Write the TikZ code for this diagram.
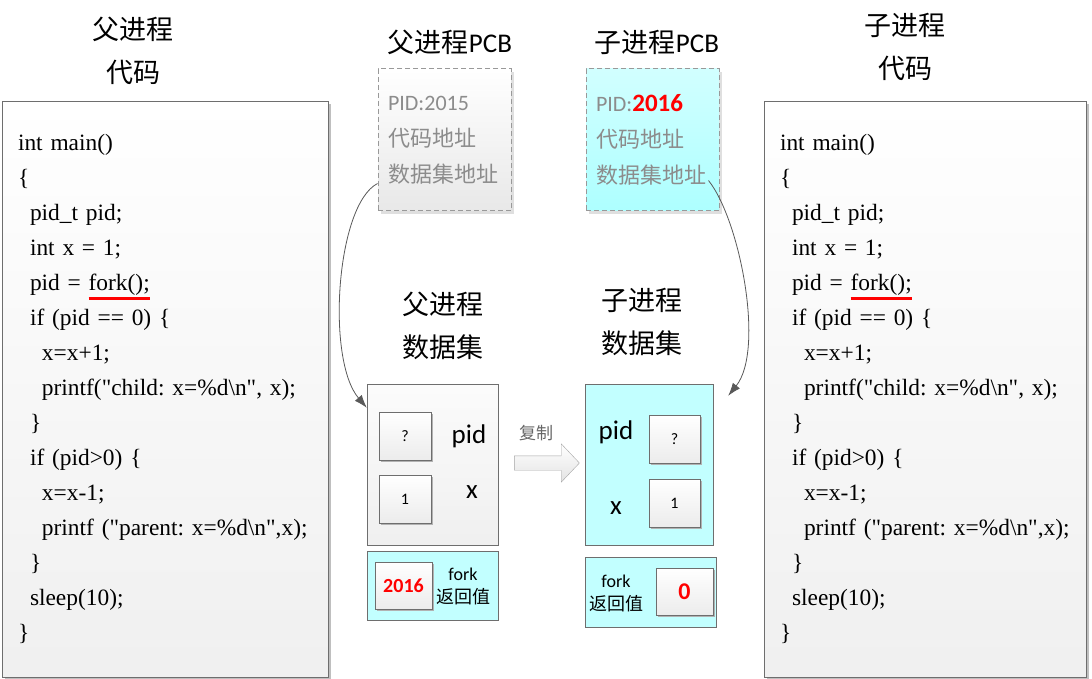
\documentclass[tikz,border=0pt]{standalone}
\usepackage{fontspec}
\setmainfont{Liberation Serif}
\newfontfamily\codefont{Liberation Serif}
\newfontfamily\cjk{Noto Sans CJK SC}
\newfontfamily\calib{Carlito}
\usepackage{xcolor}
\usepackage{tikz}
\usetikzlibrary{arrows.meta,shapes.arrows,shadows}

\definecolor{boxline}{HTML}{6E6E6E}
\definecolor{pcbtext}{HTML}{8C8C8C}
\definecolor{cyanfill}{HTML}{C2FFFF}

% red mark under fork();
\newcommand{\forkmark}[1]{\setbox0=\hbox{#1}\rlap{\color{red}\rule[-9pt]{\wd0}{2.5pt}}\box0}

\begin{document}
\begin{tikzpicture}[x=1pt,y=-1pt,
      every node/.style={inner sep=0pt},
      title/.style={font=\cjk\fontsize{27}{43}\selectfont, align=center},
      codebox/.style={
        draw=boxline, top color=white, bottom color=gray!12,
        align=left, minimum height=576pt,
        font=\codefont\frenchspacing\fontsize{23.4}{35}\selectfont,
        drop shadow={shadow xshift=3pt, shadow yshift=-3pt, fill=gray!50, opacity=1}
      },
      pcb/.style={
        draw=gray!80, dash pattern=on 5pt off 3pt, line width=1pt,
        align=left, inner xsep=10pt, text width=113pt, minimum height=142pt,
        text=pcbtext, font=\fontsize{22}{36}\selectfont,
        drop shadow={shadow xshift=3pt, shadow yshift=-3pt, fill=gray!25, opacity=1}
      },
      databox/.style={draw=boxline, minimum width=131pt, minimum height=161pt},
      retbox/.style={draw=boxline, minimum width=131pt, minimum height=69pt, fill=cyanfill},
      cell/.style={
        draw=boxline, top color=white, bottom color=gray!15,
        minimum width=52pt, minimum height=48pt,
        font=\calib\fontsize{16}{16}\selectfont,
        drop shadow={shadow xshift=1.5pt, shadow yshift=-1.5pt, fill=gray!60, opacity=1}
      },
      varname/.style={font=\calib\fontsize{27}{27}\selectfont},
      retlabel/.style={align=center, font=\fontsize{18}{23}\selectfont},
      link/.style={draw=gray!70!black, line width=0.8pt, -{Latex[length=13pt,width=9pt]}}
    ]
    \useasboundingbox (0,0) rectangle (1092,679);
    \fill[white] (0,0) rectangle (1092,679);

    % titles
    \node[title] (ptitle) at (133,51) {父进程\\代码};
    \node[title] (ctitle) at (905,47) {子进程\\代码};
    \node[title] (ppcbtitle) at (450,42) {父进程{\calib PCB}};
    \node[title] (cpcbtitle) at (657,42) {子进程{\calib PCB}};
    \node[title] (pdatatitle) at (443,326) {父进程\\数据集};
    \node[title] (cdatatitle) at (642,322) {子进程\\数据集};

    % code
    \node[codebox, inner xsep=16pt, text width=294pt] (pcode) at (165,389) {%
      int main()\\
      \{\\
      \hspace*{12pt}pid\_t pid;\\
      \hspace*{12pt}int x = 1;\\
      \hspace*{12pt}pid = \forkmark{fork();}\\
      \hspace*{12pt}if (pid == 0) \{\\
      \hspace*{24pt}x=x+1;\\
      \hspace*{24pt}printf("child: x=\%d\textbackslash n", x);\\
      \hspace*{12pt}\}\\
      \hspace*{12pt}if (pid>0) \{\\
      \hspace*{24pt}x=x-1;\\
      \hspace*{24pt}printf ("parent: x=\%d\textbackslash n",x);\\
      \hspace*{12pt}\}\\
      \hspace*{12pt}sleep(10);\\
      \}};
    \node[codebox, inner xsep=16pt, text width=290pt] (ccode) at (925,389) {%
      int main()\\
      \{\\
      \hspace*{12pt}pid\_t pid;\\
      \hspace*{12pt}int x = 1;\\
      \hspace*{12pt}pid = \forkmark{fork();}\\
      \hspace*{12pt}if (pid == 0) \{\\
      \hspace*{24pt}x=x+1;\\
      \hspace*{24pt}printf("child: x=\%d\textbackslash n", x);\\
      \hspace*{12pt}\}\\
      \hspace*{12pt}if (pid>0) \{\\
      \hspace*{24pt}x=x-1;\\
      \hspace*{24pt}printf ("parent: x=\%d\textbackslash n",x);\\
      \hspace*{12pt}\}\\
      \hspace*{12pt}sleep(10);\\
      \}};

    % PCBs
    \node[pcb, top color=white, bottom color=gray!18] (ppcb) at (444.5,140) {%
      {\calib PID:2015}\\
      {\cjk 代码地址}\\
      {\cjk 数据集地址}};
    \node[pcb, top color=cyan!18, bottom color=cyan!32] (cpcb) at (652.5,140) {%
      {\calib PID:{\bfseries\color{red}\fontsize{25}{36}\selectfont 2016}}\\
      {\cjk 代码地址}\\
      {\cjk 数据集地址}};

    % data sets
    \node[databox, top color=gray!3, bottom color=gray!12] (pdata) at (432.5,464.5) {};
    \node[databox, minimum width=128pt, fill=cyanfill] (cdata) at (649,464.5) {};
    \node[cell] (ppid) at (405,436) {?};
    \node[cell] (px) at (405,499) {1};
    \node[varname] (ppidlabel) at (469,436) {pid};
    \node[varname] (pxlabel) at (472,492) {x};
    \node[cell, minimum width=51pt] (cpid) at (674.5,439) {?};
    \node[cell, minimum width=51pt] (cx) at (674.5,503) {1};
    \node[varname] (cpidlabel) at (616,432) {pid};
    \node[varname] (cxlabel) at (616,508) {x};

    % fork return values
    \node[retbox] (pret) at (432.5,585.5) {};
    \node[cell, minimum width=57pt, minimum height=47pt,
      font=\calib\bfseries\fontsize{20}{20}\selectfont, text=red] (pretval) at (403.5,585.5) {2016};
    \node[retlabel] (pretlabel) at (463,586) {{\calib fork}\\{\cjk 返回值}};
    \node[retbox, minimum height=70pt] (cret) at (650.5,592) {};
    \node[cell, minimum width=57pt, minimum height=47pt,
      font=\calib\bfseries\fontsize{24}{24}\selectfont, text=red] (cretval) at (684.5,591.5) {0};
    \node[retlabel] (cretlabel) at (616,593) {{\calib fork}\\{\cjk 返回值}};

    % copy arrow
    \node[single arrow, draw=gray!70, top color=white, bottom color=gray!22,
      minimum height=65pt, minimum width=38pt, inner ysep=7pt, inner xsep=0pt,
      single arrow head extend=12pt, single arrow tip angle=93] (copy) at (543.5,463) {};
    \node[font=\cjk\fontsize{17}{17}\selectfont, text=gray!80!black] (copylabel) at (536,433) {复制};

    % links from PCB to data set
    \draw[link] ([yshift=28pt]ppcb.south west)
      .. controls (336,205) and (326,360) .. ([yshift=-24pt]pdata.north west);
    \draw[link] ([xshift=-11pt,yshift=31pt]cpcb.south east)
      .. controls (740,220) and (765,350) .. ([xshift=15pt,yshift=-12pt]cdata.north east);
  \end{tikzpicture}
\end{document}
